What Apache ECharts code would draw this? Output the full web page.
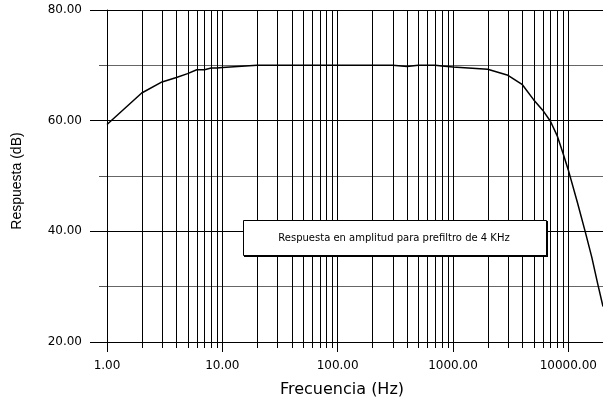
<!DOCTYPE html>
<html>
<head>
<meta charset="utf-8">
<script src="https://cdn.jsdelivr.net/npm/echarts@6/dist/echarts.min.js"></script>
<style>html,body{margin:0;padding:0;background:#fff;}#c{width:603px;height:400px;}</style>
</head>
<body>
<div id="c"></div>
<script>
// Frequencies (Hz) and amplitude response (dB)
const freqs = [1,2,3,4,5,6,7,8,9,10,20,30,40,50,60,70,80,90,100,200,300,400,500,600,700,800,900,1000,2000,3000,4000,5000,6000,7000,8000,9000,10000,12000,14000,16000,18000,20000];
const respDb = [59.3,65.0,67.0,67.8,68.5,69.2,69.2,69.5,69.5,69.6,70.0,70.0,70.0,70.0,70.0,70.0,70.0,70.0,70.0,70.0,70.0,69.8,70.0,70.0,70.0,69.9,69.8,69.7,69.3,68.2,66.5,63.8,61.9,59.9,57.3,54.1,51.1,45.2,40.0,35.3,30.5,26.4];
// Minor log grid positions
const minorFreqs = [2,3,4,5,6,7,8,9,20,30,40,50,60,70,80,90,200,300,400,500,600,700,800,900,2000,3000,4000,5000,6000,7000,8000,9000];
const yMin = 20, yMax = 80, yStep = 20;
const xMin = 1, xMax = 20000;
const legendText = 'Respuesta en amplitud para prefiltro de 4 KHz';
const xName = 'Frecuencia (Hz)';
const yName = 'Respuesta (dB)';

const chart = echarts.init(document.getElementById('c'), null, {renderer: 'canvas'});
const tickFont = {fontFamily: 'DejaVu Sans', fontSize: 12, color: '#000'};
chart.setOption({
  animation: false,
  backgroundColor: '#fff',
  grid: {left: 107, right: 0, top: 10, bottom: 58, containLabel: false},
  xAxis: {
    type: 'log', logBase: 10, min: xMin, max: xMax,
    axisLine: {show: true, lineStyle: {color: '#000', width: 1}},
    axisTick: {show: true, length: 10, lineStyle: {color: '#000'}},
    splitLine: {show: true, lineStyle: {color: '#000', width: 1}},
    minorTick: {show: false}, minorSplitLine: {show: false},
    axisLabel: Object.assign({margin: 18, formatter: v => Number(v).toFixed(2)}, tickFont)
  },
  yAxis: {
    type: 'value', min: yMin, max: yMax, interval: yStep,
    axisLine: {show: true, lineStyle: {color: '#000', width: 1}},
    axisTick: {show: true, length: 17, lineStyle: {color: '#000'}},
    minorTick: {show: true, splitNumber: 2, length: 8, lineStyle: {color: '#555'}},
    splitLine: {show: true, lineStyle: {color: '#000', width: 1}},
    minorSplitLine: {show: true, lineStyle: {color: '#666', width: 1}},
    axisLabel: Object.assign({margin: 25, formatter: v => Number(v).toFixed(2)}, tickFont)
  },
  series: [
    {
      type: 'custom', coordinateSystem: 'cartesian2d', clip: false, silent: true, z: 1,
      data: minorFreqs.map(f => [f, yMin]),
      encode: {x: 0, y: 1},
      renderItem: function (params, api) {
        const f = api.value(0);
        const top = api.coord([f, yMax]);
        const bot = api.coord([f, yMin]);
        const x = Math.round(top[0]) + 0.5;
        return {type: 'line', shape: {x1: x, y1: top[1], x2: x, y2: bot[1] + 6},
                style: {stroke: '#000', lineWidth: 1}};
      }
    },
    {
      type: 'line', z: 5, symbol: 'none', smooth: false, clip: true,
      data: freqs.map((f, i) => [f, respDb[i]]),
      lineStyle: {color: '#000', width: 1.5}
    }
  ],
  graphic: [
    {type: 'text', x: 342, y: 390, z: 10,
     style: {text: xName, fontFamily: 'DejaVu Sans', fontSize: 16, fill: '#000', textAlign: 'center', textVerticalAlign: 'middle'}},
    {type: 'text', x: 17, y: 181, rotation: Math.PI / 2, z: 10,
     style: {text: yName, fontFamily: 'Liberation Sans', fontSize: 14, fill: '#000', textAlign: 'center', textVerticalAlign: 'middle'}},
    {type: 'rect', z: 20, shape: {x: 244, y: 221, width: 304, height: 36}, style: {fill: '#000'}},
    {type: 'rect', z: 21, shape: {x: 243.5, y: 220.5, width: 303, height: 35}, style: {fill: '#fff', stroke: '#000', lineWidth: 1}},
    {type: 'text', x: 394, y: 238, z: 22,
     style: {text: legendText, fontFamily: 'DejaVu Sans', fontSize: 10, fill: '#000', textAlign: 'center', textVerticalAlign: 'middle'}}
  ]
});
</script>
</body>
</html>
